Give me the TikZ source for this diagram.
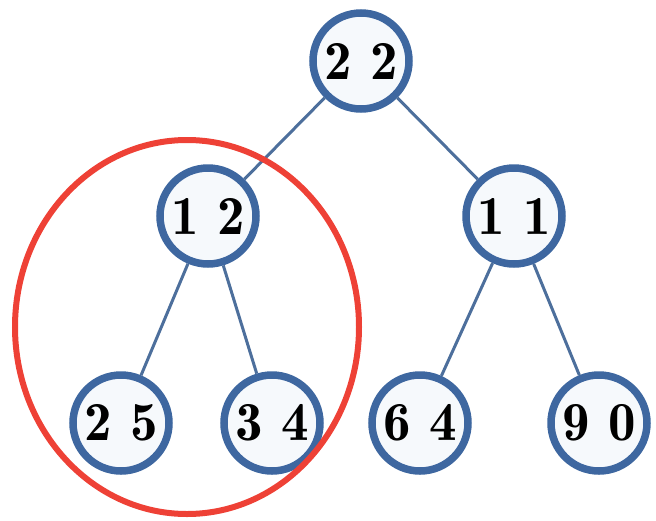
\documentclass[tikz,border=0pt]{standalone}
\usetikzlibrary{shapes.geometric}
\definecolor{nodeblue}{HTML}{3E67A0}
\definecolor{edgeblue}{HTML}{4D6F9C}
\definecolor{nodefill}{HTML}{F6F9FC}
\definecolor{hlred}{HTML}{EE4136}
\tikzset{
  treenode/.style={circle, draw=nodeblue, line width=7.5pt, fill=nodefill,
    minimum size=96pt, inner sep=0pt,
    font=\fontsize{55}{55}\fontseries{b}\selectfont},
  treeedge/.style={draw=edgeblue, line width=3pt},
  highlight/.style={ellipse, draw=hlred, line width=6pt, minimum width=344pt,
    minimum height=374pt, inner sep=0pt}
}
\begin{document}
\begin{tikzpicture}[x=1pt,y=-1pt]
\useasboundingbox (0,0) rectangle (656,520);
\node[treenode] (n22) at (361,61) {2 2};
\node[treenode] (n12) at (208,216) {1 2};
\node[treenode] (n11) at (514,216) {1 1};
\node[treenode] (n25) at (121,423) {2 5};
\node[treenode] (n34) at (272,423) {3 4};
\node[treenode] (n64) at (420,423) {6 4};
\node[treenode] (n90) at (599,423) {9 0};
\path[treeedge] (n22) -- (n12);
\path[treeedge] (n22) -- (n11);
\path[treeedge] (n12) -- (n25);
\path[treeedge] (n12) -- (n34);
\path[treeedge] (n11) -- (n64);
\path[treeedge] (n11) -- (n90);
\node[highlight] (hl) at (187,327) {};
\end{tikzpicture}
\end{document}
